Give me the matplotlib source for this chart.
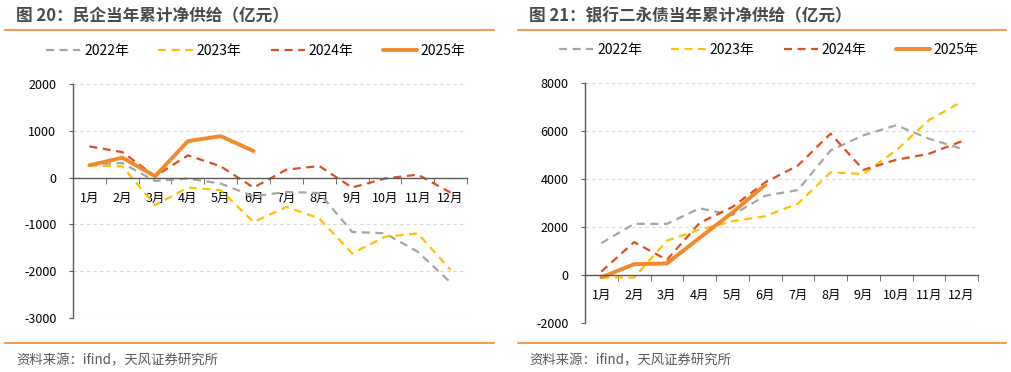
import matplotlib
matplotlib.use("Agg")
import matplotlib.pyplot as plt
from matplotlib.ticker import MultipleLocator, FixedLocator

plt.rcParams['font.family'] = ['Noto Sans CJK SC', 'DejaVu Sans']

months = ["1月", "2月", "3月", "4月", "5月", "6月", "7月", "8月", "9月", "10月", "11月", "12月"]
years = ["2022年", "2023年", "2024年", "2025年"]

# 民企当年累计净供给（亿元）
pe_2022 = [283, 310, -72, -20, -128, -400, -306, -330, -1160, -1190, -1585, -2240]
pe_2023 = [262, 240, -590, -213, -270, -950, -626, -873, -1620, -1265, -1193, -1975]
pe_2024 = [667, 545, 30, 475, 240, -213, 170, 247, -213, -20, 64, -320]
pe_2025 = [262, 426, 30, 780, 886, 567]

# 银行二永债当年累计净供给（亿元）
bk_2022 = [1330, 2130, 2130, 2780, 2500, 3300, 3540, 5190, 5820, 6240, 5680, 5260]
bk_2023 = [-110, -110, 1430, 1890, 2240, 2450, 2970, 4280, 4210, 5190, 6450, 7220]
bk_2024 = [140, 1370, 630, 2170, 2830, 3860, 4560, 5890, 4380, 4800, 5050, 5570]
bk_2025 = [-100, 450, 480, 1550, 2600, 3750]

colors = ["#A5A5A5", "#FFC000", "#D9501E", "#F28A2B"]
W, H = 1011, 372
fig = plt.figure(figsize=(W / 100, H / 100), dpi=100)
fig.patch.set_facecolor("white")

def fx(px):
    return px / W

def fy(py):
    return 1 - py / H

def draw_panel(rect, series, ylim, ystep, title, title_x, line_x0, line_x1, leg_anchor):
    x0, ytop, x1, ybot = rect
    ax = fig.add_axes([fx(x0), fy(ybot), fx(x1 - x0), (ybot - ytop) / H])
    xs = list(range(12))
    dash = (3.6, 2.5)
    handles = []
    for i, (vals, c) in enumerate(zip(series, colors)):
        if i < 3:
            h, = ax.plot(xs[:len(vals)], vals, color=c, lw=1.6, ls=(0, dash), label=years[i],
                         solid_capstyle='butt', dash_capstyle='butt')
        else:
            h, = ax.plot(xs[:len(vals)], vals, color=c, lw=2.8, label=years[i],
                         solid_capstyle='round')
        handles.append(h)
    ax.set_xlim(-0.5, 11.5)
    ax.set_ylim(*ylim)
    ax.yaxis.set_major_locator(MultipleLocator(ystep))
    for yv in range(ylim[0], ylim[1] + 1, ystep):
        if yv != 0:
            ax.axhline(yv, color="#D9D9D9", lw=0.8, ls=(0, (3, 3)), zorder=0)
    for s in ["top", "right"]:
        ax.spines[s].set_visible(False)
    ax.spines["left"].set_color("#595959")
    ax.spines["left"].set_linewidth(1.0)
    ax.spines["bottom"].set_position(("data", 0))
    ax.spines["bottom"].set_color("#595959")
    ax.spines["bottom"].set_linewidth(1.0)
    ax.set_xticks(xs)
    ax.set_xticklabels(months)
    ax.xaxis.set_minor_locator(FixedLocator([i - 0.5 for i in range(13)]))
    ax.tick_params(axis="x", which="major", length=0, pad=10, labelsize=9, colors="black")
    ax.tick_params(axis="x", which="minor", length=4, direction="out", color="#595959")
    ax.tick_params(axis="y", length=3, direction="out", color="#595959", labelsize=9, pad=9)
    ax.set_yticklabels([str(int(v)) for v in ax.get_yticks()])
    ax.patch.set_alpha(0)
    ax.legend(handles=handles, ncol=4, loc="center", bbox_to_anchor=leg_anchor,
              bbox_transform=fig.transFigure, frameon=False, fontsize=10,
              handlelength=2.45, handletextpad=0.3, columnspacing=2.1)
    fig.text(fx(title_x), fy(16), title, fontsize=12, fontweight="bold", color="#4a4a4a",
             va="center", ha="left")
    fig.add_artist(plt.Line2D([fx(line_x0), fx(line_x1)], [fy(30), fy(30)], color="#F28A2B", lw=1.2))
    fig.add_artist(plt.Line2D([fx(line_x0), fx(line_x1)], [fy(343), fy(343)], color="#F28A2B", lw=1.2))
    fig.text(fx(title_x), fy(360), "资料来源：ifind，天风证券研究所", fontsize=9.6, color="#595959",
             va="center", ha="left")
    return ax

draw_panel((73, 84, 467, 318), [pe_2022, pe_2023, pe_2024, pe_2025], (-3000, 2000), 1000,
           "图 20：民企当年累计净供给（亿元）", 16, 5, 494, (fx(256), fy(51)))
draw_panel((585, 83, 978, 323), [bk_2022, bk_2023, bk_2024, bk_2025], (-2000, 8000), 2000,
           "图 21：银行二永债当年累计净供给（亿元）", 529, 518, 1006, (fx(769), fy(50)))

fig.savefig("out.png", dpi=100)
